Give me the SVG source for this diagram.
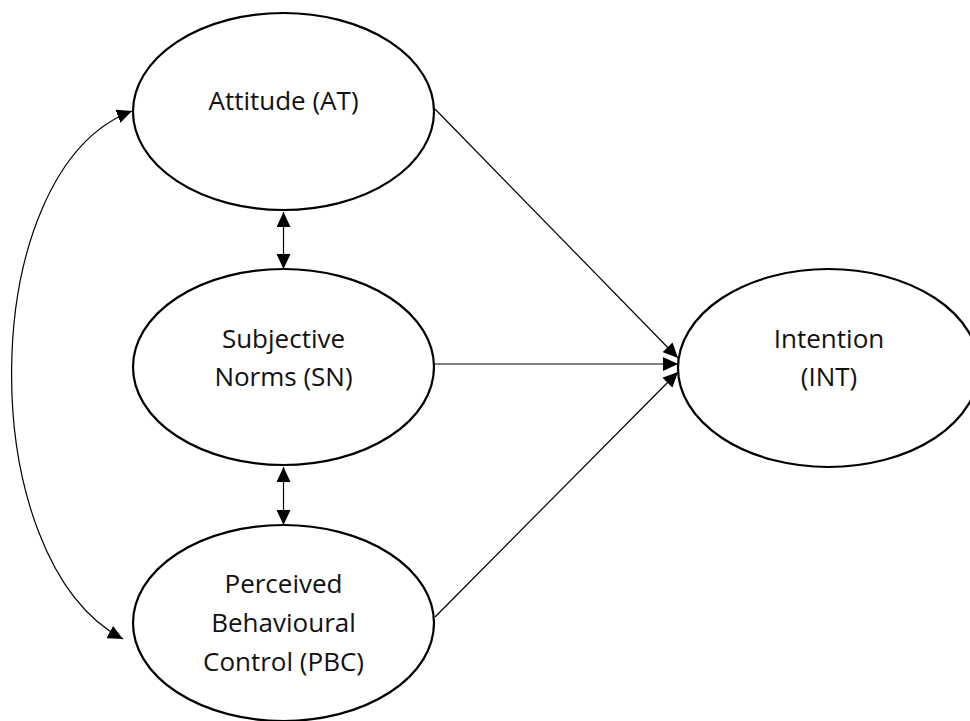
<svg xmlns="http://www.w3.org/2000/svg" width="970" height="721" viewBox="0 0 970 721">
<style>
.node ellipse{fill:#fff;stroke:#000;stroke-width:2.2}
.node text{font-family:"Open Sans","Liberation Sans",sans-serif;font-size:26px;fill:#111;text-anchor:middle}
.conn line,.conn path{stroke:#000;stroke-width:1.2;fill:none}
</style>
<defs>
<marker id="ah" markerUnits="userSpaceOnUse" markerWidth="15" markerHeight="14" refX="15" refY="7" orient="auto-start-reverse" viewBox="0 0 15 14">
<path d="M0,0 L15,7 L0,14 z" fill="#000"/>
</marker>
</defs>
<rect width="970" height="721" fill="#fff"/>
<g class="conn" id="connectors">
<path d="M132,111 C -26,170.5 -28,560 123,639" marker-start="url(#ah)" marker-end="url(#ah)"/>
<line x1="283.5" y1="212" x2="283.5" y2="269" marker-start="url(#ah)" marker-end="url(#ah)"/>
<line x1="283.5" y1="467" x2="283.5" y2="525" marker-start="url(#ah)" marker-end="url(#ah)"/>
<line x1="435" y1="109" x2="678" y2="358" marker-end="url(#ah)"/>
<line x1="435" y1="364" x2="678" y2="364" marker-end="url(#ah)"/>
<line x1="435" y1="617" x2="678" y2="372" marker-end="url(#ah)"/>
</g>
<g class="node" id="at">
<ellipse cx="283.5" cy="111.5" rx="150.5" ry="98.5"/>
<text x="283.5" y="110">Attitude (AT)</text>
</g>
<g class="node" id="sn">
<ellipse cx="283.5" cy="367" rx="150.5" ry="98"/>
<text x="283.5" y="348">Subjective</text>
<text x="283.5" y="386">Norms (SN)</text>
</g>
<g class="node" id="pbc">
<ellipse cx="283.5" cy="623" rx="150.5" ry="98"/>
<text x="283.5" y="593">Perceived</text>
<text x="283.5" y="632">Behavioural</text>
<text x="283.5" y="671">Control (PBC)</text>
</g>
<g class="node" id="int">
<ellipse cx="828.5" cy="368" rx="150.5" ry="99"/>
<text x="829" y="348">Intention</text>
<text x="829" y="386">(INT)</text>
</g>
</svg>
